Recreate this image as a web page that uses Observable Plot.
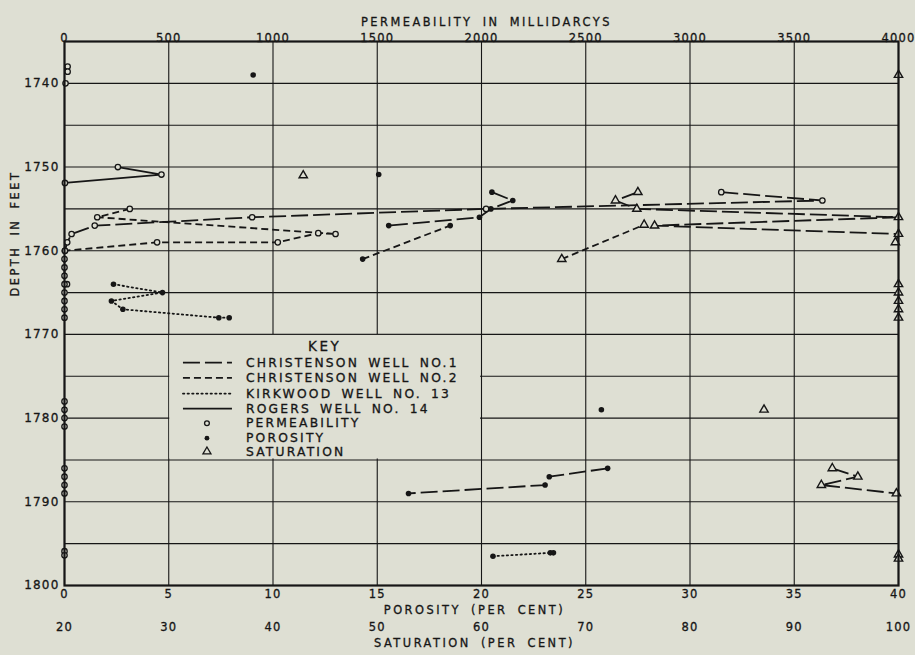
<!DOCTYPE html>
<html><head><meta charset="utf-8">
<script src="https://cdn.jsdelivr.net/npm/d3@7"></script>
<script src="https://cdn.jsdelivr.net/npm/@observablehq/plot@0.6"></script>
<style>
html,body{margin:0;padding:0;background:#dedfd3;}
#chart svg{display:block;}
#chart svg text{stroke:#161616;stroke-width:0.3px;}
</style></head><body><div id="chart"></div>
<script>
// ---------- axes / tick labels ----------
const permTicks = [0,500,1000,1500,2000,2500,3000,3500,4000];
const porosityTicks = [0,5,10,15,20,25,30,35,40];
const saturationTicks = [20,30,40,50,60,70,80,90,100];
const depthTicks = [1740,1750,1760,1770,1780,1790,1800];
const gridDepths = [1740,1745,1750,1755,1760,1765,1770,1775,1780,1785,1790,1795];

// ---------- data: [depth (ft), value] ----------
// Christenson Well No. 1 (long dash)
const c1Permeability = [[1753,3150],[1754,3635],[1755,2022],[1756,900],[1757,145],[1758,34],[1759,13],[1760,2]];
const c1Porosity = [[1753,20.5],[1754,21.5],[1755,20.45],[1756,19.9],[1757,15.55]];
const c1Saturation = [[1753,75.0],[1754,72.85],[1755,74.9],[1756,100],[1757,76.6],[1758,100],[1759,99.7]];
const c1PermeabilityLower = [[1786,0],[1787,0],[1788,0],[1789,0]];
const c1PorosityLower = [[1786,26.05],[1787,23.25],[1788,23.05],[1789,16.5]];
const c1SaturationLower = [[1786,93.65],[1787,96.1],[1788,92.6],[1789,99.8]];
// Christenson Well No. 2 (short dash)
const c2Permeability = [[1755,313],[1756,157],[1758,1300],[1757.9,1217],[1759,1023],[1759,444],[1760,2],[1761,0],[1762,0],[1763,0]];
const c2Porosity = [[1761,14.3],[1757,18.5]];
const c2Saturation = [[1761,67.7],[1756.9,75.6]];
const c2PermeabilityLower = [[1778,0],[1779,0],[1780,0],[1781,0]];
const c2PorosityLower = [[1779,25.75]];
const c2SaturationLower = [[1779,87.1]];
// Kirkwood Well No. 13 (dotted)
const kPermeability = [[1764,12],[1764,0],[1765,0],[1766,0],[1767,0],[1768,0]];
const kPorosity = [[1764,2.35],[1765,4.7],[1766,2.25],[1767,2.8],[1768,7.4],[1768,7.9]];
const kSaturation = [[1764,100],[1765,100],[1766,100],[1767,100],[1768,100]];
const kPermeabilityLower = [[1795.9,0],[1796.4,0]];
const kPorosityLower = [[1796.5,20.55],[1796.1,23.3],[1796.1,23.45]];
const kSaturationLower = [[1796.3,100],[1796.8,100]];
// Rogers Well No. 14 (solid)
const rPermeabilityTop = [[1738,15],[1738.6,15],[1740,5]];
const rPermeability = [[1750,256],[1750.9,465],[1751.9,2]];
const rPorosity = [[1739,9.05],[1750.9,15.07]];
const rSaturation = [[1739,100],[1751,42.9]];

// ---------- build table ----------
const ink = "#161616", bg = "#dedfd3";
// all three scales share one frame: map to permeability units
const toX = {perm: v => v, por: v => v * 100, sat: v => (v - 20) * 50};
const series = [
  ["c1","perm",c1Permeability,true],["c1","por",c1Porosity,true],["c1","sat",c1Saturation,true],
  ["c1","perm",c1PermeabilityLower,false],["c1","por",c1PorosityLower,true],["c1","sat",c1SaturationLower,true],
  ["c2","perm",c2Permeability,true],["c2","por",c2Porosity,true],["c2","sat",c2Saturation,true],
  ["c2","perm",c2PermeabilityLower,false],["c2","por",c2PorosityLower,false],["c2","sat",c2SaturationLower,false],
  ["k","perm",kPermeability,false],["k","por",kPorosity,true],["k","sat",kSaturation,false],
  ["k","perm",kPermeabilityLower,false],["k","por",kPorosityLower,true],["k","sat",kSaturationLower,false],
  ["r","perm",rPermeabilityTop,false],["r","perm",rPermeability,true],["r","por",rPorosity,false],["r","sat",rSaturation,false]
];
const rows = [];
series.forEach(([well, prop, pts, line], i) => {
  pts.forEach(([depth, v]) => rows.push({well, prop, line, run: i, depth, x: toX[prop](v)}));
});
const lineRows = w => rows.filter(d => d.well === w && d.line);
const dash = {c1: "17,5", c2: "7,4", k: "1.4,3.2", r: null};

const lineMarks = ["c1","c2","k","r"].map(w => Plot.line(lineRows(w), {
  x: "x", y: "depth", z: "run", stroke: ink, strokeWidth: 1.8,
  strokeDasharray: dash[w] || undefined, strokeLinecap: w === "k" ? "round" : "butt"
}));

const chart = Plot.plot({
  width: 915, height: 655,
  marginLeft: 64, marginRight: 17, marginTop: 41, marginBottom: 70,
  style: {background: "transparent", fontFamily: "DejaVu Sans, sans-serif", color: ink, overflow: "visible"},
  x: {domain: [0, 4000], axis: null},
  y: {domain: [1735, 1800], reverse: true, axis: null},
  marks: [
    Plot.ruleX(permTicks, {x: d => d, stroke: ink, strokeWidth: 1.1}),
    Plot.ruleY(gridDepths, {y: d => d, stroke: ink, strokeWidth: 1.1}),
    ...lineMarks,
    Plot.dot(rows.filter(d => d.prop === "perm"), {x: "x", y: "depth", r: 2.7, stroke: ink, fill: bg, strokeWidth: 1.3}),
    Plot.dot(rows.filter(d => d.prop === "por"), {x: "x", y: "depth", r: 2.8, fill: ink, stroke: "none"}),
    Plot.dot(rows.filter(d => d.prop === "sat"), {x: "x", y: "depth", symbol: "triangle", r: 3.1, stroke: ink, fill: bg, strokeWidth: 1.4}),
    Plot.frame({stroke: ink, strokeWidth: 2.2}),
    // tick labels
    Plot.text(permTicks, {x: d => d, frameAnchor: "top", dy: -7.5, text: d => String(d), fontSize: 11.5, fill: ink}),
    Plot.text(permTicks, {x: d => d, frameAnchor: "bottom", dy: 12, text: (d, i) => String(porosityTicks[i]), fontSize: 11.5, fill: ink}),
    Plot.text(permTicks, {x: d => d, frameAnchor: "bottom", dy: 45.5, text: (d, i) => String(saturationTicks[i]), fontSize: 11.5, fill: ink}),
    Plot.text(depthTicks, {y: d => d, frameAnchor: "left", dx: -5, textAnchor: "end", text: d => String(d), fontSize: 12, fill: ink}),
    // axis titles
    Plot.text(["PERMEABILITY IN MILLIDARCYS"], {frameAnchor: "top", dx: 5, dy: -24, text: d => d, fontSize: 11.4, fill: ink}),
    Plot.text(["POROSITY (PER CENT)"], {frameAnchor: "bottom", dx: -7, dy: 28.5, text: d => d, fontSize: 11.4, fill: ink}),
    Plot.text(["SATURATION (PER CENT)"], {frameAnchor: "bottom", dx: -7, dy: 61, text: d => d, fontSize: 11.4, fill: ink}),
    Plot.text(["DEPTH IN FEET"], {frameAnchor: "left", dx: -49, dy: -17, rotate: -90, text: d => d, fontSize: 11.4, fill: ink})
  ]
});
document.getElementById("chart").appendChild(chart);

// ---------- key (legend) ----------
const sx = chart.scale("x"), sy = chart.scale("y");
const svg = d3.select(chart);
const bx0 = sx.apply(500), bx1 = sx.apply(2000), by0 = sy.apply(1770), by1 = sy.apply(1785);
const key = svg.append("g").attr("font-family", "DejaVu Sans, sans-serif").attr("fill", ink).attr("text-anchor", "start");
key.append("rect").attr("x", bx0 + 1).attr("y", by0 + 1).attr("width", bx1 - bx0 - 2).attr("height", by1 - by0 - 2).attr("fill", bg);
key.append("text").attr("x", (bx0 + bx1) / 2).attr("y", by0 + 12).attr("text-anchor", "middle")
  .attr("dominant-baseline", "central").attr("font-size", 13.5).style("letter-spacing", "2.5px").text("KEY");
const keyItems = [
  {label: "CHRISTENSON WELL NO.1", type: "line", w: "c1", dy: 28.7},
  {label: "CHRISTENSON WELL NO.2", type: "line", w: "c2", dy: 44},
  {label: "KIRKWOOD WELL NO. 13", type: "line", w: "k", dy: 59.7},
  {label: "ROGERS WELL NO. 14", type: "line", w: "r", dy: 74.7},
  {label: "PERMEABILITY", type: "perm", dy: 89.3},
  {label: "POROSITY", type: "por", dy: 104.3},
  {label: "SATURATION", type: "sat", dy: 117.7}
];
keyItems.forEach(it => {
  const y = by0 + it.dy;
  if (it.type === "line") {
    key.append("line").attr("x1", bx0 + 14.7).attr("x2", bx0 + 63.7).attr("y1", y).attr("y2", y)
      .attr("stroke", ink).attr("stroke-width", 1.8)
      .attr("stroke-dasharray", dash[it.w]).attr("stroke-linecap", it.w === "k" ? "round" : "butt");
  } else if (it.type === "perm") {
    key.append("circle").attr("cx", bx0 + 38.7).attr("cy", y).attr("r", 2.4).attr("fill", bg).attr("stroke", ink).attr("stroke-width", 1.3);
  } else if (it.type === "por") {
    key.append("circle").attr("cx", bx0 + 38.7).attr("cy", y).attr("r", 2.4).attr("fill", ink);
  } else {
    key.append("path").attr("transform", `translate(${bx0 + 38.7},${y})`)
      .attr("d", d3.symbol(d3.symbolTriangle, 28)()).attr("fill", bg).attr("stroke", ink).attr("stroke-width", 1.3);
  }
  key.append("text").attr("x", bx0 + 77.7).attr("y", y).attr("dominant-baseline", "central").attr("text-anchor", "start")
    .attr("font-size", 12.3).style("letter-spacing", "2.2px").style("word-spacing", "3px").text(it.label);
});

// letter spacing for the lettering style of the original
svg.selectAll("text").each(function () {
  if (this.style.letterSpacing) return;
  const t = this.textContent;
  const letters = /[A-Z]/.test(t);
  this.style.letterSpacing = letters ? "2.5px" : "1.2px";
  if (letters) this.style.wordSpacing = "4px";
});
</script></body></html>
